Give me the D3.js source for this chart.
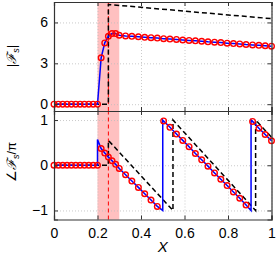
<!DOCTYPE html>
<html>
<head>
<meta charset="utf-8">
<script src="https://cdn.jsdelivr.net/npm/d3@7"></script>
<style>
  body { margin: 0; background: #fff; }
  svg { display: block; }
  text { font-family: "Liberation Sans", Arial, sans-serif; }
</style>
</head>
<body>
<div id="chart"></div>
<script>
// marker positions (red circles) and values
const markX = [0, 0.02, 0.04, 0.06, 0.08, 0.1, 0.12, 0.14, 0.16, 0.18, 0.2,
  0.2167, 0.2333, 0.25, 0.2667, 0.2833, 0.3,
  0.329, 0.358, 0.388, 0.417, 0.446, 0.475, 0.504, 0.533, 0.563, 0.592,
  0.621, 0.65, 0.679, 0.708, 0.738, 0.767, 0.796, 0.825, 0.854, 0.883,
  0.913, 0.942, 0.971, 1.0];
const magVals = [0, 0, 0, 0, 0, 0, 0, 0, 0, 0, 0,
  3.4, 4.5, 4.98, 5.18, 5.18, 5.06,
  5.01, 4.98, 4.95, 4.91, 4.88, 4.85, 4.81, 4.78, 4.75, 4.71,
  4.68, 4.65, 4.62, 4.58, 4.55, 4.52, 4.48, 4.45, 4.42, 4.38,
  4.35, 4.32, 4.29, 4.26];
const phaseVals = [0, 0, 0, 0, 0, 0, 0, 0, 0, 0, 0,
  0.37, 0.27, 0.18, 0.10, 0.02, -0.07,
  -0.21, -0.35, -0.49, -0.63, -0.77, -0.91, 0.98, 0.84, 0.69, 0.55,
  0.41, 0.26, 0.12, -0.02, -0.17, -0.31, -0.45, -0.59, -0.73, -0.88,
  0.97, 0.82, 0.68, 0.54];

// extra vertices of the blue phase line (jump at onset and the 2pi wraps)
const phaseJumpX = [0.2, 0.5, 0.5, 0.906, 0.906];
const phaseJumpY = [0.57, -1.0, 1.0, -1.0, 1.0];

// black dashed reference curves
const refMagX = [0, 0.25, 0.25, 0.4, 0.6, 0.8, 1.0];
const refMagY = [0, 0, 7.32, 7.11, 6.83, 6.55, 6.28];
const refPhaseX = [0, 0.25, 0.25, 0.547, 0.547, 0.927, 0.927, 1.0];
const refPhaseY = [0, 0, 0.55, -1.0, 1.0, -1.0, 1.0, 0.62];

const band = [0.2, 0.3];
const markerLine = 0.25;

const xTicks = [0, 0.2, 0.4, 0.6, 0.8, 1];
const xTickLabels = ["0", "0.2", "0.4", "0.6", "0.8", "1"];
const magTicks = [0, 3, 6];
const magTickLabels = ["0", "3", "6"];
const phaseTicks = [-1, 0, 1];
const phaseTickLabels = ["\u22121", "0", "1"];

const W = 278, H = 254;
const svg = d3.select("#chart").append("svg")
  .attr("width", W).attr("height", H);

const x = d3.scaleLinear().domain([0, 1]).range([54, 271.5]);
const yTop = d3.scaleLinear().domain([-0.5, 7.5]).range([111, 2]);
const yBot = d3.scaleLinear().domain([-1.2, 1.2]).range([219.5, 111]);

function panel(y, yTicks, yLabels, lines, markY) {
  const [y0, y1] = y.range();
  const g = svg.append("g");

  // pink band
  g.append("rect")
    .attr("x", x(band[0])).attr("width", x(band[1]) - x(band[0]))
    .attr("y", y1).attr("height", y0 - y1)
    .attr("fill", "#ffc0c0");

  // grid
  const gx = g.append("g").attr("transform", "translate(0," + y0 + ")")
    .call(d3.axisBottom(x).tickValues(xTicks).tickSize(-(y0 - y1)).tickFormat(""));
  const gy = g.append("g").attr("transform", "translate(" + x(0) + ",0)")
    .call(d3.axisLeft(y).tickValues(yTicks).tickSize(-(x(1) - x(0))).tickFormat(""));
  [gx, gy].forEach(a => {
    a.select(".domain").remove();
    a.selectAll("line").attr("stroke", "#bdbdbd").attr("stroke-width", 0.8)
      .attr("stroke-dasharray", "1,2");
  });

  // red dashed marker line
  g.append("line")
    .attr("x1", x(markerLine)).attr("x2", x(markerLine))
    .attr("y1", y0).attr("y2", y1)
    .attr("stroke", "#ff0000").attr("stroke-width", 1)
    .attr("stroke-dasharray", "4,3");

  const line = d3.line().x(d => x(d[0])).y(d => y(d[1]));
  lines.forEach(l => {
    g.append("path").datum(l.pts)
      .attr("d", line).attr("fill", "none")
      .attr("stroke", l.color).attr("stroke-width", l.width)
      .attr("stroke-dasharray", l.dash || null);
  });

  g.append("g").selectAll("circle")
    .data(markX.map((v, i) => [v, markY[i]]))
    .join("circle")
    .attr("cx", d => x(d[0])).attr("cy", d => y(d[1]))
    .attr("r", 2.8)
    .attr("fill", "none").attr("stroke", "#ff0000").attr("stroke-width", 1.4);

  // frame and inner ticks
  const axes = [
    g.append("g").attr("transform", "translate(0," + y0 + ")")
      .call(d3.axisBottom(x).tickValues(xTicks).tickSize(-4).tickFormat("")),
    g.append("g").attr("transform", "translate(0," + y1 + ")")
      .call(d3.axisTop(x).tickValues(xTicks).tickSize(-4).tickFormat("")),
    g.append("g").attr("transform", "translate(" + x(0) + ",0)")
      .call(d3.axisLeft(y).tickValues(yTicks).tickSize(-4).tickPadding(6)
        .tickFormat((d, i) => yLabels[i])),
    g.append("g").attr("transform", "translate(" + x(1) + ",0)")
      .call(d3.axisRight(y).tickValues(yTicks).tickSize(-4).tickFormat(""))
  ];
  axes.forEach(a => {
    a.select(".domain").attr("stroke", "#333").attr("stroke-width", 1.2);
    a.selectAll(".tick line").attr("stroke", "#333");
    a.selectAll("text").attr("font-size", 14).attr("fill", "#000")
      .attr("font-family", "Liberation Sans, Arial, sans-serif");
  });
  return g;
}

const magLine = markX.map((v, i) => [v, magVals[i]]);
panel(yTop, magTicks, magTickLabels, [
  { pts: refMagX.map((v, i) => [v, refMagY[i]]), color: "#000", width: 1.5, dash: "5,3" },
  { pts: magLine, color: "#0000ff", width: 1.5 }
], magVals);

const phaseLine = markX.map((v, i) => [v, phaseVals[i]])
  .concat(phaseJumpX.map((v, i) => [v, phaseJumpY[i]]))
  .sort((a, b) => a[0] - b[0]);
panel(yBot, phaseTicks, phaseTickLabels, [
  { pts: refPhaseX.map((v, i) => [v, refPhaseY[i]]), color: "#000", width: 1.5, dash: "5,3" },
  { pts: phaseLine, color: "#0000ff", width: 1.5 }
], phaseVals);

// x tick labels under the lower panel
svg.append("g").attr("transform", "translate(0,219.5)")
  .call(d3.axisBottom(x).tickValues(xTicks).tickSize(0).tickPadding(9)
    .tickFormat((d, i) => xTickLabels[i]))
  .call(a => a.select(".domain").remove())
  .selectAll("text").attr("font-size", 14).attr("fill", "#000")
  .attr("font-family", "Liberation Sans, Arial, sans-serif");

// axis titles
svg.append("text")
  .attr("x", x(0.5)).attr("y", 252)
  .attr("text-anchor", "middle")
  .attr("font-family", "Liberation Serif, serif").attr("font-style", "italic")
  .attr("font-size", 15).text("X");

function yTitle(cy, prefix, suffix) {
  const t = svg.append("text")
    .attr("transform", "translate(16," + cy + ") rotate(-90)")
    .attr("text-anchor", "middle")
    .attr("font-family", "DejaVu Serif, serif").attr("font-size", 13);
  t.append("tspan").text(prefix);
  t.append("tspan").attr("font-style", "italic").text("\u2131");
  t.append("tspan").attr("font-size", 9).attr("dy", 3).attr("font-style", "italic").text("s");
  t.append("tspan").attr("dy", -3).text(suffix);
}
yTitle(56, "|", "|");
yTitle(162, "\u2220", "/\u03c0");
</script>
</body>
</html>
